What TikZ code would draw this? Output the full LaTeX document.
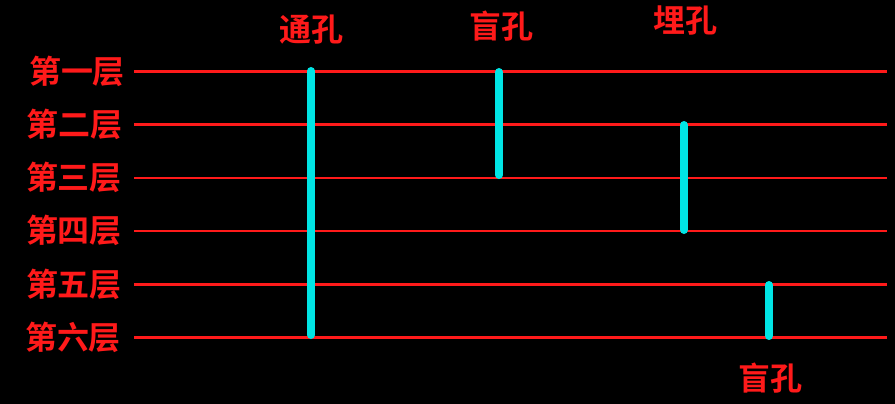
\documentclass[tikz,border=0pt]{standalone}
\usepackage{fontspec}
\setmainfont{Noto Sans CJK SC Bold}
\definecolor{lred}{RGB}{255,26,26}
\definecolor{vcyan}{RGB}{0,229,229}
\begin{document}
\begin{tikzpicture}[x=1pt,y=-1pt,
  layer/.style={draw=lred,line width=2.4pt},
  via/.style={draw=vcyan,line width=8pt,line cap=round},
  lbl/.style={text=lred,font=\fontsize{32}{32}\selectfont,inner sep=0pt}]
\fill[black] (0,0) rectangle (895,404);
\useasboundingbox (0,0) rectangle (895,404);
% layer lines
\foreach \i/\y in {1/71.5,2/124.3,3/177.7,4/230.8,5/284.3,6/337.4}{
  \coordinate (s\i) at (134,\y);
  \coordinate (e\i) at (887,\y);
  \draw[layer] (s\i) -- (e\i);
}
% layer labels
\node[lbl] (t1) at (77,71.5) {第一层};
\node[lbl] (t2) at (75,124.3) {第二层};
\node[lbl] (t3) at (74,177.7) {第三层};
\node[lbl] (t4) at (74,230.8) {第四层};
\node[lbl] (t5) at (74,284.3) {第五层};
\node[lbl] (t6) at (73,337.4) {第六层};
% vias
\coordinate (a1) at (311,71);
\coordinate (a2) at (311,335);
\coordinate (b1) at (499,72);
\coordinate (b2) at (499,175);
\coordinate (c1) at (684,125);
\coordinate (c2) at (684,230);
\coordinate (d1) at (769,285);
\coordinate (d2) at (769,336);
\draw[via] (a1) -- (a2);
\draw[via] (b1) -- (b2);
\draw[via] (c1) -- (c2);
\draw[via] (d1) -- (d2);
% via labels
\node[lbl] (n1) at (311,30) {通孔};
\node[lbl] (n2) at (501,26) {盲孔};
\node[lbl] (n3) at (685,21) {埋孔};
\node[lbl] (n4) at (770,378) {盲孔};
\end{tikzpicture}
\end{document}
